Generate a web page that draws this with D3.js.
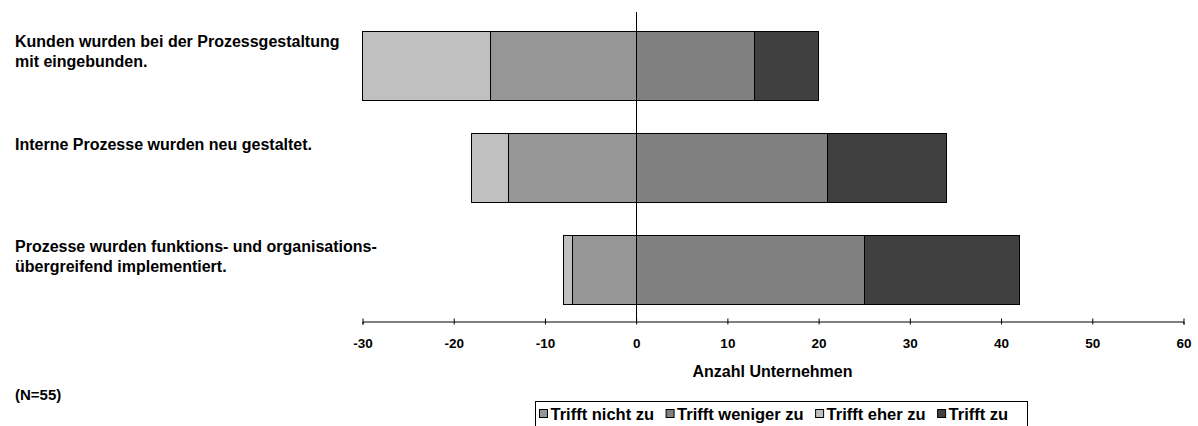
<!DOCTYPE html>
<html>
<head>
<meta charset="utf-8">
<script src="https://cdn.jsdelivr.net/npm/d3@7"></script>
<style>
  body { margin: 0; background: #fff; }
  svg text { font-family: "Liberation Sans", Arial, sans-serif; font-weight: bold; fill: #000; }
</style>
</head>
<body>
<div id="chart"></div>
<script>
// statements (y categories), one array of lines each
const categories = [
  ['Kunden wurden bei der Prozessgestaltung', 'mit eingebunden.'],
  ['Interne Prozesse wurden neu gestaltet.'],
  ['Prozesse wurden funktions- und organisations-', 'übergreifend implementiert.']
];

// counts per answer, same order as categories
const trifftNichtZu = [14, 4, 1];
const trifftWenigerZu = [16, 14, 7];
const trifftEherZu = [13, 21, 25];
const trifftZu = [7, 13, 17];

const xTicks = [-30, -20, -10, 0, 10, 20, 30, 40, 50, 60];
const legendLabels = ['Trifft nicht zu', 'Trifft weniger zu', 'Trifft eher zu', 'Trifft zu'];

// colours as they appear: bar segments left to right, legend swatches in legend order
const barColors = ['#c0c0c0', '#969696', '#808080', '#404040'];
const legendColors = ['#969696', '#808080', '#c0c0c0', '#404040'];

const width = 1198, height = 426;

const svg = d3.select('#chart').append('svg')
    .attr('width', width)
    .attr('height', height);

const x = d3.scaleLinear()
    .domain([-30, 60])
    .range([362, 1183]);

const y = d3.scaleBand()
    .domain(d3.range(categories.length))
    .range([15, 320])
    .paddingInner(0.32)
    .paddingOuter(0.16);

// build segments: two on the left of zero, two on the right
const segments = [];
categories.forEach((c, i) => {
  const left1 = -(trifftNichtZu[i] + trifftWenigerZu[i]);
  const left2 = -trifftWenigerZu[i];
  segments.push({row: i, x0: left1, x1: left2, color: barColors[0]});
  segments.push({row: i, x0: left2, x1: 0, color: barColors[1]});
  segments.push({row: i, x0: 0, x1: trifftEherZu[i], color: barColors[2]});
  segments.push({row: i, x0: trifftEherZu[i], x1: trifftEherZu[i] + trifftZu[i], color: barColors[3]});
});

svg.append('g')
  .selectAll('rect')
  .data(segments)
  .join('rect')
    .attr('x', d => Math.round(x(d.x0)) + 0.5)
    .attr('y', d => Math.round(y(d.row)) + 0.5)
    .attr('width', d => Math.round(x(d.x1)) - Math.round(x(d.x0)))
    .attr('height', Math.round(y.bandwidth()))
    .attr('fill', d => d.color)
    .attr('stroke', '#000')
    .attr('stroke-width', 1);

// zero line
svg.append('line')
    .attr('x1', Math.round(x(0)) + 0.5)
    .attr('x2', Math.round(x(0)) + 0.5)
    .attr('y1', 12)
    .attr('y2', 321)
    .attr('stroke', '#000');

// x axis
const axisY = 321;
const xAxis = svg.append('g')
    .attr('transform', `translate(0.5,${axisY + 0.5})`)
    .call(d3.axisBottom(x).tickValues(xTicks).tickSize(3).tickPadding(14).tickFormat(d => String(d)));
xAxis.select('.domain').attr('stroke', '#000');
xAxis.selectAll('.tick line').attr('y1', -3).attr('y2', 3).attr('stroke', '#000');
xAxis.selectAll('.tick text')
    .style('font-size', '13.5px')
    .style('font-family', '"Liberation Sans", Arial, sans-serif')
    .style('font-weight', 'bold')
    .attr('fill', '#000');

svg.append('text')
    .attr('x', x(15))
    .attr('y', 377)
    .attr('text-anchor', 'middle')
    .style('font-size', '16px')
    .text('Anzahl Unternehmen');

// category labels
const labels = svg.append('g')
  .selectAll('text')
  .data(categories)
  .join('text')
    .attr('x', 15)
    .attr('y', (d, i) => y(i) + 15.5 + (i === 0 ? 0 : 2))
    .style('font-size', '16px');
labels.selectAll('tspan')
  .data(d => d)
  .join('tspan')
    .attr('x', 15)
    .attr('dy', (d, i) => i === 0 ? 0 : 20)
    .text(d => d);

svg.append('text')
    .attr('x', 15)
    .attr('y', 400)
    .style('font-size', '15px')
    .text('(N=55)');

// legend
const legend = svg.append('g').attr('transform', 'translate(535.5,401.5)');
legend.append('rect')
    .attr('width', 492)
    .attr('height', 40)
    .attr('fill', '#fff')
    .attr('stroke', '#000');

let cursor = 4;
legendLabels.forEach((label, i) => {
  const item = legend.append('g').attr('transform', `translate(${cursor},0)`);
  item.append('rect')
      .attr('y', 8)
      .attr('width', 8)
      .attr('height', 8)
      .attr('fill', legendColors[i])
      .attr('stroke', '#000');
  const t = item.append('text')
      .attr('x', 11)
      .attr('y', 18)
      .style('font-size', '16.5px')
      .text(label);
  cursor += 11 + t.node().getComputedTextLength() + 12;
});
</script>
</body>
</html>
